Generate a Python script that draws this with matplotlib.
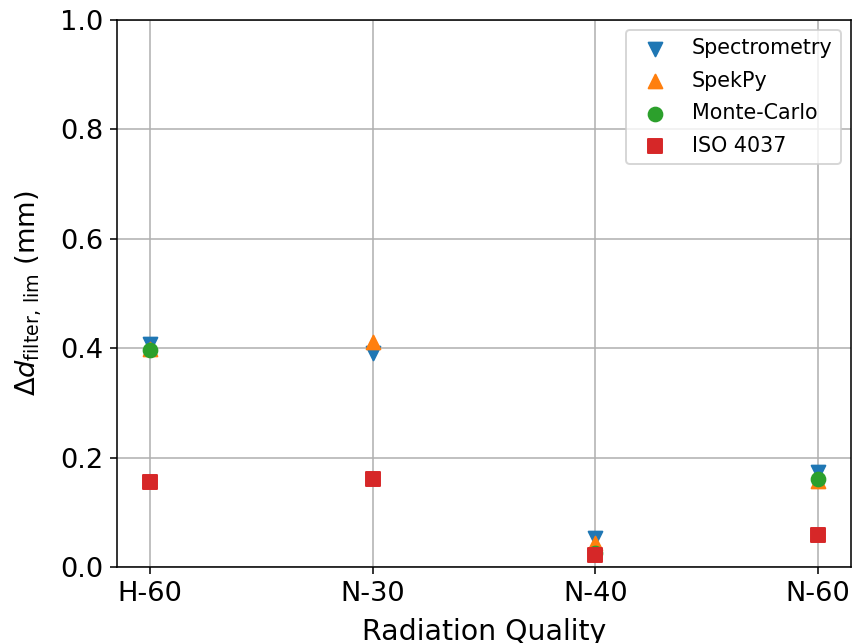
import numpy as np
import matplotlib.pyplot as plt

qualities = ["H-60", "N-30", "N-40", "N-60"]
spectrometry = [0.408, 0.392, 0.053, 0.174]
spekpy = [0.398, 0.412, 0.044, 0.158]
monte_carlo = [0.396, np.nan, 0.025, 0.161]
iso_4037 = [0.155, 0.161, 0.022, 0.059]

x = np.arange(len(qualities))

fig = plt.figure(figsize=(853 / 140, 643 / 140), dpi=140)
ax = fig.add_axes([0.137, 0.118, 0.861, 0.851])

ax.scatter(x, spectrometry, marker="v", s=50, label="Spectrometry", zorder=3)
ax.scatter(x, spekpy, marker="^", s=50, label="SpekPy", zorder=3)
ax.scatter(x, monte_carlo, marker="o", s=50, label="Monte-Carlo", zorder=3)
ax.scatter(x, iso_4037, marker="s", s=50, label="ISO 4037", zorder=3)

ax.set_xticks(x)
ax.set_xticklabels(qualities)
ax.set_xlim(-0.15, 3.15)
ax.set_ylim(0, 1.0)
ax.set_yticks(np.arange(0, 1.01, 0.2))
ax.tick_params(labelsize=14)
ax.grid(True)
ax.set_axisbelow(True)

ax.set_xlabel("Radiation Quality", fontsize=14.6, labelpad=6)
ax.set_ylabel(r"$\Delta d_{\mathrm{filter,\,lim}}$ (mm)", fontsize=14, labelpad=8)
ax.legend(loc="upper right", fontsize=10.6, labelspacing=0.6)

fig.savefig("out.png", dpi=140)
